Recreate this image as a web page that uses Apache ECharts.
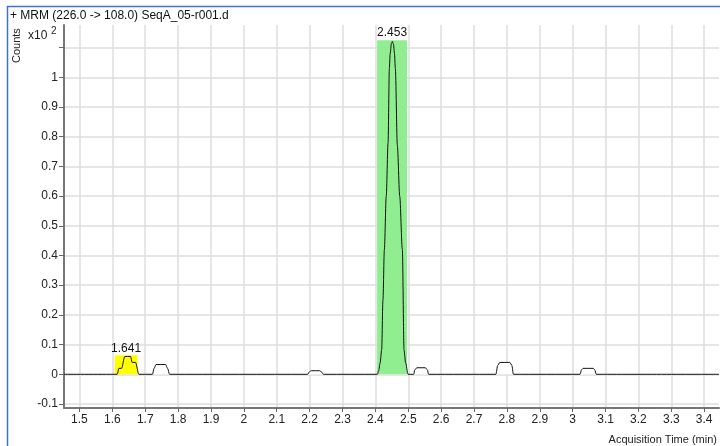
<!DOCTYPE html>
<html>
<head>
<meta charset="utf-8">
<title>MRM chromatogram</title>
<script src="https://cdn.jsdelivr.net/npm/echarts@6/dist/echarts.min.js"></script>
<style>
  html, body { margin: 0; padding: 0; background: #fff; }
  #chart { width: 720px; height: 446px; }
</style>
</head>
<body>
<div id="chart"></div>
<script>
// Retention time (min) and abundance (x10^2 counts) of the MRM trace
const traceTime = [
  1.453, 1.6148, 1.620, 1.628, 1.638, 1.6554, 1.6603, 1.6706, 1.6806,
  1.722, 1.727, 1.733, 1.762, 1.768, 1.774,
  2.194, 2.200, 2.205, 2.230, 2.236, 2.242,
  2.406, 2.410, 2.4143, 2.4191, 2.423, 2.4273, 2.433, 2.4386, 2.4425, 2.445, 2.449, 2.4516,
  2.455, 2.458, 2.4607, 2.4668, 2.474, 2.482, 2.4871, 2.492, 2.4993,
  2.5163, 2.520, 2.526, 2.552, 2.558, 2.5618,
  2.7664, 2.772, 2.7786, 2.8089, 2.815, 2.8198,
  3.0223, 3.027, 3.0314, 3.0627, 3.067, 3.0718,
  3.445
];
const traceCounts = [
  0, 0, 0.02, 0.02, 0.06, 0.06, 0.04, 0.04, 0,
  0, 0.02, 0.033, 0.033, 0.02, 0,
  0, 0.009, 0.012, 0.012, 0.008, 0,
  0, 0.012, 0.038, 0.082, 0.25, 0.42, 0.6, 0.78, 1.03, 1.08, 1.115, 1.121,
  1.112, 1.08, 1.03, 0.77, 0.6, 0.42, 0.082, 0.038, 0,
  0, 0.015, 0.022, 0.022, 0.015, 0,
  0, 0.03, 0.04, 0.04, 0.03, 0,
  0, 0.015, 0.02, 0.02, 0.015, 0,
  0
];

// Integrated peaks: label (RT), window start/end and shaded height
const peakLabels = ['1.641', '2.453'];
const peakStart = [1.6075, 2.4052];
const peakEnd = [1.6764, 2.4962];
const peakTop = [0.064, 1.125];
const peakFill = ['#ffff00', '#90ee90'];

// Axis ticks
const xTicks = [1.5, 1.6, 1.7, 1.8, 1.9, 2, 2.1, 2.2, 2.3, 2.4, 2.5, 2.6, 2.7, 2.8, 2.9, 3, 3.1, 3.2, 3.3, 3.4];
const yTicks = [-0.1, 0, 0.1, 0.2, 0.3, 0.4, 0.5, 0.6, 0.7, 0.8, 0.9, 1, 1.1];
const yLabels = [-0.1, 0, 0.1, 0.2, 0.3, 0.4, 0.5, 0.6, 0.7, 0.8, 0.9, 1];

const FONT = 'Arial, "Liberation Sans", sans-serif';
const traceData = traceTime.map((t, i) => [t, traceCounts[i]]);

const markAreaData = peakLabels.map((name, i) => [
  { name: name, xAxis: peakStart[i], yAxis: 0, itemStyle: { color: peakFill[i] } },
  { xAxis: peakEnd[i], yAxis: peakTop[i] }
]);

const chart = echarts.init(document.getElementById('chart'), null, { renderer: 'canvas' });

chart.setOption({
  animation: false,
  backgroundColor: '#ffffff',
  textStyle: { fontFamily: FONT },
  grid: { left: 64, right: 0, top: 25, bottom: 38, containLabel: false },
  xAxis: {
    type: 'value',
    min: 1.453,
    max: 3.445,
    name: 'Acquisition Time (min)',
    nameLocation: 'end',
    nameGap: -2,
    nameTextStyle: {
      fontFamily: FONT, fontSize: 11, color: '#222',
      align: 'right', verticalAlign: 'top', padding: [26, 0, 0, 0]
    },
    axisLine: { show: true, onZero: false, lineStyle: { color: '#777', width: 2 } },
    axisTick: { show: true, length: 4, customValues: xTicks, lineStyle: { color: '#666' } },
    axisLabel: { customValues: xTicks, fontFamily: FONT, fontSize: 12, color: '#222', margin: 6 },
    splitLine: { show: true, lineStyle: { color: '#dedede', width: 1.5 } }
  },
  yAxis: {
    type: 'value',
    min: -0.1135,
    max: 1.176,
    axisLine: { show: true, onZero: false, lineStyle: { color: '#777', width: 2 } },
    axisTick: { show: true, length: 5, customValues: yTicks, lineStyle: { color: '#666' } },
    axisLabel: { customValues: yLabels, fontFamily: FONT, fontSize: 12, color: '#222', margin: 6 },
    splitLine: { show: true, lineStyle: { color: '#dedede', width: 1.5 } }
  },
  graphic: [
    // outer frame edges (top and left)
    { type: 'line', shape: { x1: 7, y1: 6.5, x2: 720, y2: 6.5 }, style: { stroke: '#3b72d6', lineWidth: 1.5 }, z: 100 },
    { type: 'line', shape: { x1: 7.5, y1: 6, x2: 7.5, y2: 446 }, style: { stroke: '#3b72d6', lineWidth: 1.5 }, z: 100 },
    { type: 'text', left: 10, top: 10, style: { text: '+ MRM (226.0 -> 108.0) SeqA_05-r001.d', font: '12px ' + FONT, fill: '#111' }, z: 100 },
    { type: 'text', x: 11, y: 63, rotation: Math.PI / 2, style: { text: 'Counts', font: '11px ' + FONT, fill: '#222', textAlign: 'left', textVerticalAlign: 'top' }, z: 100 },
    { type: 'text', left: 28, top: 30, style: { text: 'x10', font: '12px ' + FONT, fill: '#222' }, z: 100 },
    { type: 'text', left: 51, top: 26, style: { text: '2', font: '10px ' + FONT, fill: '#222' }, z: 100 }
  ],
  series: [
    {
      // white fill under the trace, kept below the integration windows
      type: 'line',
      data: traceData,
      showSymbol: false,
      smooth: 0.3,
      smoothMonotone: 'x',
      lineStyle: { width: 0 },
      areaStyle: { color: '#ffffff', opacity: 1, origin: 0 },
      silent: true,
      z: 0.5
    },
    {
      // integration windows
      type: 'line',
      data: [],
      z: 2,
      markArea: {
        silent: true,
        z: 1.5,
        label: {
          show: true,
          position: 'top',
          distance: 1,
          fontFamily: FONT,
          fontSize: 12,
          color: '#111'
        },
        data: markAreaData
      }
    },
    {
      type: 'line',
      data: traceData,
      showSymbol: false,
      smooth: 0.3,
      smoothMonotone: 'x',
      lineStyle: { color: '#111', width: 1 },
      z: 3
    }
  ]
});
</script>
</body>
</html>
